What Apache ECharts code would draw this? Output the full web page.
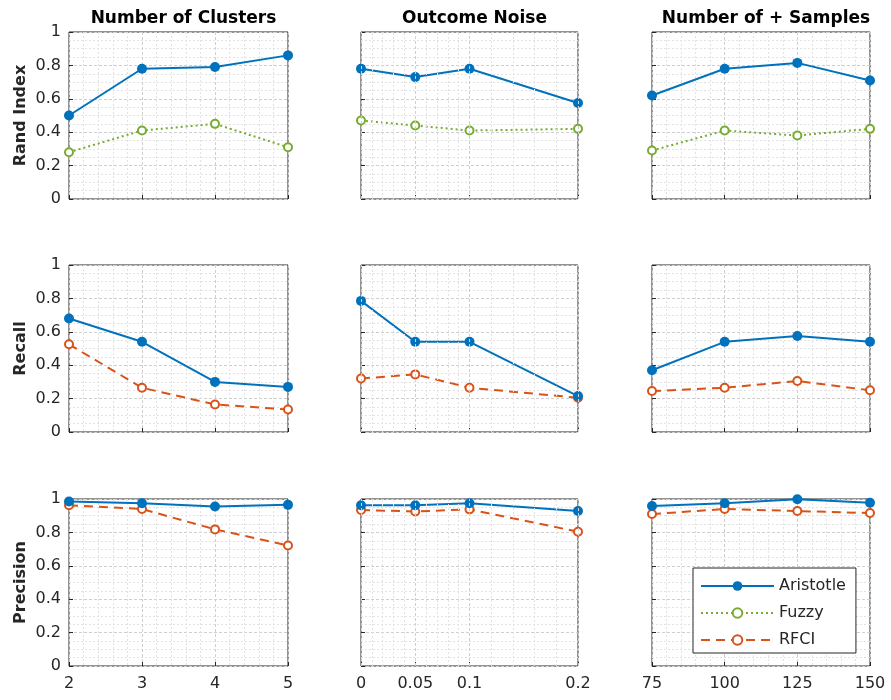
<!DOCTYPE html>
<html><head><meta charset="utf-8">
<script src="https://cdn.jsdelivr.net/npm/echarts@6/dist/echarts.min.js"></script>
<style>html,body{margin:0;padding:0;background:#fff}#c{width:891px;height:700px}</style>
</head><body><div id="c"></div>
<script>
// ---- data ----
const colTitles = ['Number of Clusters', 'Outcome Noise', 'Number of + Samples'];
const rowNames = ['Rand Index', 'Recall', 'Precision'];
const xClusters = [2, 3, 4, 5];
const xNoise = [0, 0.05, 0.1, 0.2];
const xSamples = [75, 100, 125, 150];
const noiseTicks = [0, 0.05, 0.1, 0.2];
const noiseGridMinor = [0.01, 0.02, 0.03, 0.04, 0.06, 0.07, 0.08, 0.09, 0.12, 0.14, 0.16, 0.18];

// Rand Index
const randAristotleClusters = [0.50, 0.78, 0.79, 0.86];
const randFuzzyClusters = [0.28, 0.41, 0.45, 0.31];
const randAristotleNoise = [0.78, 0.73, 0.78, 0.575];
const randFuzzyNoise = [0.47, 0.44, 0.41, 0.42];
const randAristotleSamples = [0.62, 0.78, 0.815, 0.71];
const randFuzzySamples = [0.29, 0.41, 0.38, 0.42];
// Recall
const recAristotleClusters = [0.68, 0.54, 0.30, 0.27];
const recRfciClusters = [0.525, 0.265, 0.165, 0.135];
const recAristotleNoise = [0.785, 0.54, 0.54, 0.215];
const recRfciNoise = [0.32, 0.345, 0.265, 0.205];
const recAristotleSamples = [0.37, 0.54, 0.575, 0.54];
const recRfciSamples = [0.245, 0.265, 0.305, 0.25];
// Precision
const preAristotleClusters = [0.985, 0.975, 0.955, 0.965];
const preRfciClusters = [0.963, 0.94, 0.818, 0.722];
const preAristotleNoise = [0.963, 0.963, 0.975, 0.928];
const preRfciNoise = [0.934, 0.925, 0.938, 0.804];
const preAristotleSamples = [0.958, 0.975, 0.998, 0.978];
const preRfciSamples = [0.91, 0.94, 0.928, 0.916];

// ---- layout ----
const colLeft = [69, 361, 652];
const colWidth = [219, 217, 218];
const rowTop = [32, 265, 499];
const rowHeight = 167;

const C_AR = '#0072BD', C_FZ = '#77AC30', C_RF = '#D95319';
const TXT = '#262626';
const FONT = 'DejaVu Sans, Liberation Sans, sans-serif';

const xs = [xClusters, xNoise, xSamples];
const seriesData = [
  [[randAristotleClusters, randFuzzyClusters], [randAristotleNoise, randFuzzyNoise], [randAristotleSamples, randFuzzySamples]],
  [[recAristotleClusters, recRfciClusters], [recAristotleNoise, recRfciNoise], [recAristotleSamples, recRfciSamples]],
  [[preAristotleClusters, preRfciClusters], [preAristotleNoise, preRfciNoise], [preAristotleSamples, preRfciSamples]]
];

const majorGrid = {show: true, lineStyle: {color: '#cfcfcf', type: [3, 2], width: 1}};
const minorGrid = {show: true, lineStyle: {color: '#e2e2e2', type: [2, 2], width: 1}};

const grids = [], xAxes = [], yAxes = [], series = [], titles = [];
let idx = 0;
for (let r = 0; r < 3; r++) {
  for (let c = 0; c < 3; c++) {
    grids.push({left: colLeft[c], top: rowTop[r], width: colWidth[c], height: rowHeight,
      show: true, borderColor: TXT, borderWidth: 1, backgroundColor: 'transparent'});
    const showX = r === 2;
    const xa = {type: 'value', gridIndex: idx,
      axisLine: {show: false}, axisTick: {show: true, inside: true, length: 4, lineStyle: {color: TXT}},
      axisLabel: {show: showX, color: TXT, fontSize: 16, fontFamily: FONT, margin: 10},
      splitLine: majorGrid, minorTick: {show: false}, minorSplitLine: minorGrid};
    if (c === 0) { Object.assign(xa, {min: 2, max: 5, interval: 1}); xa.minorTick = {show: false, splitNumber: 5}; }
    if (c === 2) { Object.assign(xa, {min: 75, max: 150, interval: 25}); xa.minorTick = {show: false, splitNumber: 5}; }
    if (c === 1) {
      Object.assign(xa, {min: 0, max: 0.2, interval: 0.05});
      xa.axisLabel.customValues = noiseTicks;
      xa.axisTick.customValues = noiseTicks;
      xa.splitLine = {show: false};
      xa.minorSplitLine = {show: false};
    }
    xAxes.push(xa);
    yAxes.push({type: 'value', gridIndex: idx, min: 0, max: 1, interval: 0.2,
      name: c === 0 ? rowNames[r] : '', nameLocation: 'middle', nameGap: 40,
      nameTextStyle: {color: TXT, fontSize: 16, fontWeight: 'bold', fontFamily: FONT},
      axisLine: {show: false}, axisTick: {show: true, inside: true, length: 4, lineStyle: {color: TXT}},
      axisLabel: {show: c === 0, color: TXT, fontSize: 16, fontFamily: FONT, margin: 8},
      splitLine: majorGrid, minorTick: {show: false, splitNumber: 4}, minorSplitLine: minorGrid});

    if (c === 1) {
      series.push({type: 'line', xAxisIndex: idx, yAxisIndex: idx, data: [], z: 0, silent: true,
        markLine: {silent: true, symbol: 'none', label: {show: false}, animation: false,
          data: noiseTicks.concat(noiseGridMinor).map(v => ({xAxis: v,
            lineStyle: {color: noiseTicks.indexOf(v) >= 0 ? '#cfcfcf' : '#e2e2e2', type: noiseTicks.indexOf(v) >= 0 ? [3, 2] : [2, 2], width: 1}}))}});
    }

    const xv = xs[c];
    const d = seriesData[r][c];
    const second = r === 0 ? 'Fuzzy' : 'RFCI';
    const secCol = r === 0 ? C_FZ : C_RF;
    const secType = r === 0 ? [2, 3] : [9, 6];
    series.push({name: second, type: 'line', xAxisIndex: idx, yAxisIndex: idx, z: 3,
      data: xv.map((x, i) => [x, d[1][i]]), symbol: 'emptyCircle', symbolSize: 8, clip: false,
      itemStyle: {color: secCol, borderWidth: 2}, lineStyle: {color: secCol, width: 2, type: secType}});
    series.push({name: 'Aristotle', type: 'line', xAxisIndex: idx, yAxisIndex: idx, z: 4,
      data: xv.map((x, i) => [x, d[0][i]]), symbol: 'circle', symbolSize: 10, clip: false,
      itemStyle: {color: C_AR}, lineStyle: {color: C_AR, width: 2}});
    idx++;
  }
}
for (let c = 0; c < 3; c++) {
  titles.push({text: colTitles[c], left: colLeft[c] + colWidth[c] / 2, top: 5, textAlign: 'center',
    textStyle: {fontSize: 17, fontWeight: 'bold', color: '#000', fontFamily: FONT}});
}

const chart = echarts.init(document.getElementById('c'), null, {renderer: 'canvas'});
chart.setOption({
  animation: false,
  title: titles,
  grid: grids, xAxis: xAxes, yAxis: yAxes, series: series,
  legend: {data: ['Aristotle', 'Fuzzy', 'RFCI'], orient: 'vertical', left: 693, top: 568,
    itemWidth: 73, itemHeight: 12, itemGap: 11, padding: [10, 10, 5, 7],
    backgroundColor: '#fff', borderColor: TXT, borderWidth: 1, borderRadius: 0,
    textStyle: {fontSize: 16, color: TXT, fontFamily: FONT}, selectedMode: false}
});
</script></body></html>
